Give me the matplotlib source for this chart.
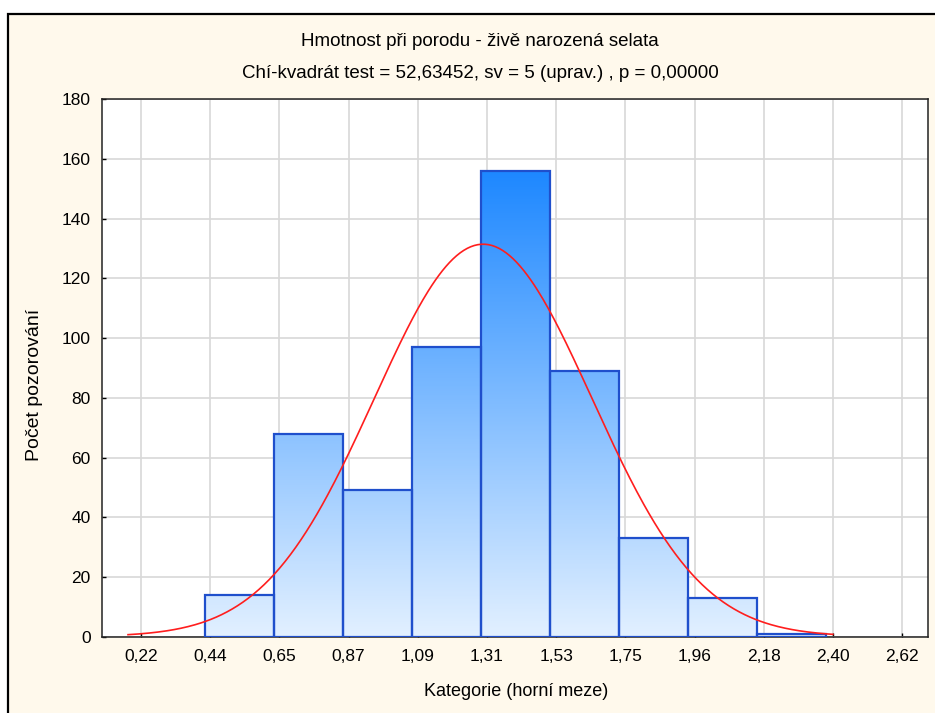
import numpy as np
import matplotlib
matplotlib.use('Agg')
import matplotlib.pyplot as plt
from matplotlib.patches import Rectangle
from matplotlib.colors import LinearSegmentedColormap

plt.rcParams['font.family'] = ['Liberation Sans', 'DejaVu Sans']
plt.rcParams['font.size'] = 12.5

# category upper limits shown on the x axis
tick_values = [0.2180, 0.4362, 0.6544, 0.8726, 1.0908, 1.3090,
               1.5272, 1.7454, 1.9636, 2.1818, 2.4000, 2.6182]
tick_labels = ['0,22', '0,44', '0,65', '0,87', '1,09', '1,31',
               '1,53', '1,75', '1,96', '2,18', '2,40', '2,62']

# histogram bins (edges) and observed counts
bin_edges = [0.420, 0.638, 0.855, 1.073, 1.291, 1.508, 1.726, 1.943, 2.161, 2.379]
counts = [14, 68, 49, 97, 156, 89, 33, 13, 1]

# fitted normal curve
fit_mean = 1.297
fit_sd = 0.3435
curve_from, curve_to = 0.177, 2.40

title = 'Hmotnost při porodu - živě narozená selata'
subtitle = 'Chí-kvadrát test = 52,63452, sv = 5 (uprav.) , p = 0,00000'
xlabel = 'Kategorie (horní meze)'
ylabel = 'Počet pozorování'

W, H = 935, 713
fig = plt.figure(figsize=(W/100, H/100), dpi=100)
fig.patch.set_facecolor('white')

# cream panel with black frame on top/left
fig.patches.append(Rectangle((8/W, -0.05), 1.1, 1 - 14/H + 0.05,
                             transform=fig.transFigure, facecolor='#fff9ec',
                             edgecolor='black', lw=1.6, zorder=-10))

ax = fig.add_axes([101.7/W, 1 - 636.6/H, (928 - 101.7)/W, (636.6 - 99.3)/H])
ax.set_facecolor('white')
ax.set_axisbelow(True)

cmap = LinearSegmentedColormap.from_list('bars', ['#e2f0ff', '#1e88ff'])
top = max(counts)
for i, c in enumerate(counts):
    x0, x1 = bin_edges[i], bin_edges[i + 1]
    grad = np.linspace(0, c, 200).reshape(-1, 1)
    ax.imshow(grad, extent=[x0, x1, 0, c], origin='lower', aspect='auto',
              cmap=cmap, vmin=0, vmax=top, interpolation='bilinear', zorder=2)
    ax.add_patch(Rectangle((x0, 0), x1 - x0, c, facecolor='none',
                           edgecolor='#1f4fcc', lw=1.6, zorder=3))

bw = np.mean(np.diff(bin_edges))
xs = np.linspace(curve_from, curve_to, 400)
ys = sum(counts) * bw / (fit_sd * np.sqrt(2*np.pi)) * np.exp(-0.5*((xs - fit_mean)/fit_sd)**2)
ax.plot(xs, ys, color='#ff1e1e', lw=1.2, zorder=4)

ax.set_xlim(0.094, 2.700)
ax.set_ylim(0, 180)
ax.set_xticks(tick_values)
ax.set_xticklabels(tick_labels)
ax.set_yticks(np.arange(0, 181, 20))
ax.grid(True, color='#d8d8d8', lw=1.2)
ax.tick_params(direction='in', length=3, width=1, color='black', pad=9)
ax.tick_params(axis='y', pad=8)
for s in ax.spines.values():
    s.set_linewidth(1.1)
    s.set_color('#222222')

fig.text(480/W, 1 - 42/H, title, ha='center', va='center', fontsize=13.5)
fig.text(480/W, 1 - 73/H, subtitle, ha='center', va='center', fontsize=13.5)
fig.text(516/W, 1 - 692/H, xlabel, ha='center', va='center', fontsize=13)
fig.text(35/W, 1 - 385/H, ylabel, ha='center', va='center', rotation=90, fontsize=14)

fig.savefig('out.png', dpi=100)
